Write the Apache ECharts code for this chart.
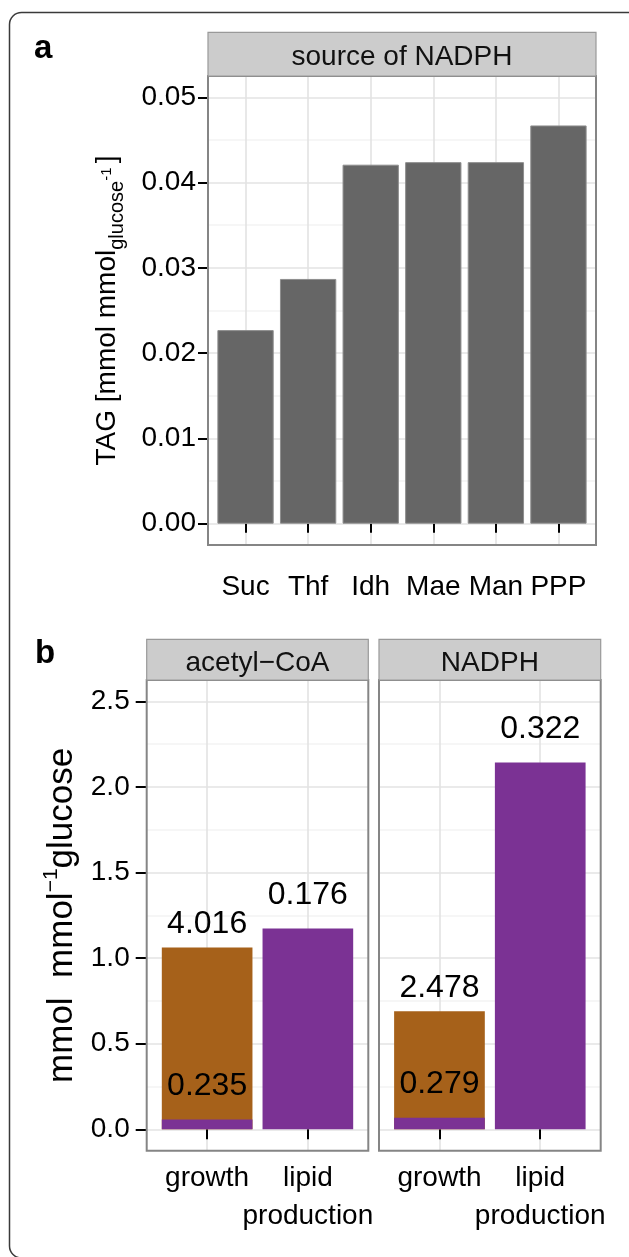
<!DOCTYPE html>
<html><head><meta charset="utf-8">
<script src="https://cdn.jsdelivr.net/npm/echarts@6/dist/echarts.min.js"></script>
<style>html,body{margin:0;padding:0;background:#fff}#c{width:629px;height:1257px}</style>
</head><body><div id="c"></div>
<script>
const FONT = '"Liberation Sans", Arial, Helvetica, sans-serif';

// ---- Panel a data ----
const sourcesA = ['Suc', 'Thf', 'Idh', 'Mae', 'Man', 'PPP'];
const tagValues = [0.0227, 0.0287, 0.0421, 0.0424, 0.0424, 0.0467];
const yTicksA = [0, 0.01, 0.02, 0.03, 0.04, 0.05];
const stripA = 'source of NADPH';

// ---- Panel b data ----
const purposesB = ['growth', 'lipid\nproduction'];
const facetsB = ['acetyl\u2212CoA', 'NADPH'];
const acetylOrange = [1.062, null];
const acetylPurple = [0.058, 1.173];
const nadphOrange = [0.690, null];
const nadphPurple = [0.068, 2.143];
const acetylOrangeLabels = ['4.016', ''];
const acetylPurpleLabels = ['0.235', '0.176'];
const nadphOrangeLabels = ['2.478', ''];
const nadphPurpleLabels = ['0.279', '0.322'];
const yTicksB = [0, 0.5, 1, 1.5, 2, 2.5];

// ---- layout ----
const A = {L: 208, T: 76, W: 388, H: 469, stripT: 32.3};
const B1 = {L: 146.7, T: 680, W: 221.6, H: 470.7, stripT: 639.3};
const B2 = {L: 379, T: 680, W: 221.7, H: 470.7, stripT: 639.3};
const insA = A.W / 6.2 * 0.1;
const insB1 = B1.W / 2.2 * 0.1;
const insB2 = B2.W / 2.2 * 0.1;

const ORANGE = '#A6611A', PURPLE = '#7B3294';
const MAJ = '#e3e3e3', MIN = '#f3f3f3', NONE = 'rgba(0,0,0,0)';
const TXT = '#000';

function bgGrid(p) { return {left: p.L, top: p.T, width: p.W, height: p.H, containLabel: false}; }
function dataGrid(p, ins) { return {left: p.L + ins, top: p.T, width: p.W - 2 * ins, height: p.H, containLabel: false}; }

function bgX(gi, min, max) {
  return {type: 'value', gridIndex: gi, min: min, max: max, interval: 0.2,
    axisLine: {show: false}, axisTick: {show: false}, axisLabel: {show: false},
    splitLine: {show: true, lineStyle: {color: [NONE, NONE, NONE, MAJ, NONE], width: 1.6}}};
}
function bgY(gi, min, max, iv) {
  return {type: 'value', gridIndex: gi, min: min, max: max, interval: iv,
    axisLine: {show: false}, axisTick: {show: false}, axisLabel: {show: false},
    splitLine: {show: true, lineStyle: {color: [NONE, MAJ, NONE, MIN], width: 1.6}}};
}

const tickStyle = {color: '#000', width: 2};

const option = {
  animation: false,
  backgroundColor: '#fff',
  textStyle: {fontFamily: FONT},
  grid: [bgGrid(A), dataGrid(A, insA), bgGrid(B1), dataGrid(B1, insB1), bgGrid(B2), dataGrid(B2, insB2)],
  xAxis: [
    bgX(0, 0.4, 6.6),
    {type: 'category', gridIndex: 1, data: sourcesA, boundaryGap: true,
      axisLine: {show: false},
      axisTick: {show: true, alignWithLabel: true, length: 9, lineStyle: tickStyle},
      axisLabel: {fontSize: 28, color: TXT, fontFamily: FONT, margin: 28.5, lineHeight: 28, interval: 0},
      splitLine: {show: false}},
    bgX(2, 0.4, 2.6),
    {type: 'category', gridIndex: 3, data: purposesB, boundaryGap: true,
      axisLine: {show: false},
      axisTick: {show: true, alignWithLabel: true, length: 10, lineStyle: tickStyle},
      axisLabel: {fontSize: 28, color: TXT, fontFamily: FONT, margin: 9, lineHeight: 38, interval: 0},
      splitLine: {show: false}},
    bgX(4, 0.4, 2.6),
    {type: 'category', gridIndex: 5, data: purposesB, boundaryGap: true,
      axisLine: {show: false},
      axisTick: {show: true, alignWithLabel: true, length: 10, lineStyle: tickStyle},
      axisLabel: {fontSize: 28, color: TXT, fontFamily: FONT, margin: 9, lineHeight: 38, interval: 0},
      splitLine: {show: false}}
  ],
  yAxis: [
    bgY(0, -0.0025, 0.0525, 0.0025),
    {type: 'value', gridIndex: 1, min: -0.0025, max: 0.0525, interval: 0.0025, offset: insA,
      axisLine: {show: false},
      axisTick: {show: true, length: 10, lineStyle: tickStyle, customValues: yTicksA},
      axisLabel: {fontSize: 28, color: TXT, fontFamily: FONT, margin: 12, customValues: yTicksA,
        formatter: v => v.toFixed(2)},
      splitLine: {show: false},
      name: '{m|TAG [mmol mmol}{sub|glucose}{sup|-1 }{m|]}',
      nameLocation: 'middle', nameRotate: 90, nameGap: 81,
      nameTextStyle: {fontFamily: FONT, fontSize: 28, color: TXT, lineHeight: 40,
        rich: {
          m: {fontFamily: FONT, fontSize: 28, lineHeight: 40, color: TXT},
          sub: {fontFamily: FONT, fontSize: 20, lineHeight: 20, verticalAlign: 'bottom', color: TXT},
          sup: {fontFamily: FONT, fontSize: 15, lineHeight: 15, verticalAlign: 'middle', color: TXT}
        }}},
    bgY(2, -0.125, 2.625, 0.125),
    {type: 'value', gridIndex: 3, min: -0.125, max: 2.625, interval: 0.125, offset: insB1,
      axisLine: {show: false},
      axisTick: {show: true, length: 11, lineStyle: tickStyle, customValues: yTicksB},
      axisLabel: {fontSize: 28, color: TXT, fontFamily: FONT, margin: 17, customValues: yTicksB,
        formatter: v => v.toFixed(1)},
      splitLine: {show: false},
      name: '{m|mmol  mmol}{sup|\u22121}{m|glucose}',
      nameLocation: 'middle', nameRotate: 90, nameGap: 62,
      nameTextStyle: {fontFamily: FONT, fontSize: 35, color: TXT, lineHeight: 44,
        rich: {
          m: {fontFamily: FONT, fontSize: 35, lineHeight: 44, color: TXT},
          sup: {fontFamily: FONT, fontSize: 21, lineHeight: 28, verticalAlign: 'top', color: TXT}
        }}},
    bgY(4, -0.125, 2.625, 0.125),
    {type: 'value', gridIndex: 5, min: -0.125, max: 2.625, interval: 0.125,
      axisLine: {show: false}, axisTick: {show: false}, axisLabel: {show: false}, splitLine: {show: false}}
  ],
  series: [
    {type: 'bar', xAxisIndex: 1, yAxisIndex: 1, data: tagValues, barWidth: '90%',
      itemStyle: {color: '#666666', borderColor: '#8e8e8e', borderWidth: 1}, z: 3},
    {type: 'bar', xAxisIndex: 3, yAxisIndex: 3, data: acetylOrange, barWidth: '90%', barGap: '-100%', z: 3,
      itemStyle: {color: ORANGE},
      label: {show: true, position: 'top', distance: 7, fontSize: 32, lineHeight: 32, color: TXT, fontFamily: FONT,
        formatter: p => acetylOrangeLabels[p.dataIndex]}},
    {type: 'bar', xAxisIndex: 3, yAxisIndex: 3, data: acetylPurple, barWidth: '90%', barGap: '-100%', z: 4,
      itemStyle: {color: PURPLE},
      label: {show: true, position: 'top', distance: 17.5, fontSize: 32, lineHeight: 32, color: TXT, fontFamily: FONT,
        formatter: p => acetylPurpleLabels[p.dataIndex]}},
    {type: 'bar', xAxisIndex: 5, yAxisIndex: 5, data: nadphOrange, barWidth: '90%', barGap: '-100%', z: 3,
      itemStyle: {color: ORANGE},
      label: {show: true, position: 'top', distance: 7, fontSize: 32, lineHeight: 32, color: TXT, fontFamily: FONT,
        formatter: p => nadphOrangeLabels[p.dataIndex]}},
    {type: 'bar', xAxisIndex: 5, yAxisIndex: 5, data: nadphPurple, barWidth: '90%', barGap: '-100%', z: 4,
      itemStyle: {color: PURPLE},
      label: {show: true, position: 'top', distance: 17.5, fontSize: 32, lineHeight: 32, color: TXT, fontFamily: FONT,
        formatter: p => nadphPurpleLabels[p.dataIndex]}}
  ],
  graphic: []
};

function frame(p) {
  return {type: 'rect', z: 100, silent: true, shape: {x: p.L, y: p.T, width: p.W, height: p.H},
    style: {fill: null, stroke: '#858585', lineWidth: 2}};
}
function strip(p, text) {
  const h = p.T - p.stripT;
  return [
    {type: 'rect', z: 100, silent: true, shape: {x: p.L, y: p.stripT, width: p.W, height: h},
      style: {fill: '#cccccc', stroke: '#999999', lineWidth: 1.2}},
    {type: 'text', z: 101, silent: true,
      style: {text: text, x: p.L + p.W / 2, y: p.stripT + h / 2 + 3.5, fontSize: 28, fontFamily: FONT, fill: '#111',
        align: 'center', verticalAlign: 'middle', textAlign: 'center', textVerticalAlign: 'middle'}}
  ];
}
option.graphic = [
  {type: 'rect', z: 50, silent: true, shape: {x: 9.5, y: 12.5, width: 640, height: 1245.5, r: 12},
    style: {fill: null, stroke: '#3a3a3a', lineWidth: 1.5}},
  {type: 'text', z: 101, silent: true, style: {text: 'a', x: 34, y: 48.5, fontSize: 33, fontWeight: 'bold', fontFamily: FONT, fill: '#000',
    align: 'left', verticalAlign: 'middle', textAlign: 'left', textVerticalAlign: 'middle'}},
  {type: 'text', z: 101, silent: true, style: {text: 'b', x: 35, y: 653.5, fontSize: 33, fontWeight: 'bold', fontFamily: FONT, fill: '#000',
    align: 'left', verticalAlign: 'middle', textAlign: 'left', textVerticalAlign: 'middle'}},
  frame(A), frame(B1), frame(B2),
  ...strip(A, stripA), ...strip(B1, facetsB[0]), ...strip(B2, facetsB[1])
];

const chart = echarts.init(document.getElementById('c'), null, {renderer: 'canvas'});
chart.setOption(option);
</script>
</body></html>
